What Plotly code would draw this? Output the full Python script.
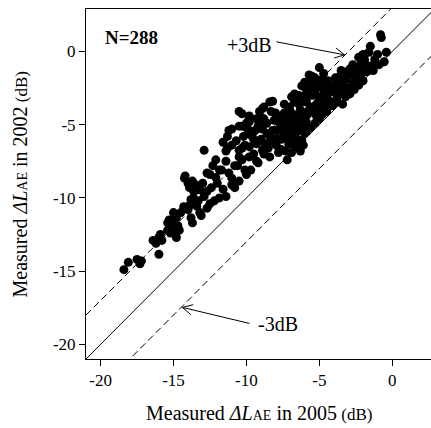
import math
import plotly.graph_objects as go

x2005 = [
    -18.4, -18.1, -17.5, -17.2, -17.3, -16.4, -16.0, -15.8, -16.0, -16.2, -15.9,
    -15.4, -15.3, -14.8, -15.1, -14.9, -14.6, -14.8, -15.4, -15.0, -14.7, -15.2,
    -13.8, -13.7, -13.9, -13.6, -14.0, -13.2, -13.1, -13.8, -13.4, -14.25, -13.7,
    -13.9, -13.2, -14.2, -13.5, -13.6, -14.0, -13.3, -13.7, -14.3, -14.5, -15.0,
    -12.9, -12.7, -12.7, -12.2, -11.85, -11.4, -12.3, -11.85, -12.7, -12.5, -11.7,
    -11.0, -10.5, -11.0, -11.4, -10.8, -10.3, -10.6, -11.0, -11.3, -11.4, -10.5,
    -10.5, -10.1, -11.2, -11.3, -11.0, -10.5, -10.5, -12.0, -12.4, -11.6, -12.9,
    -12.1, -11.2, -10.8, -12.5, -10.7,
    -10.3, -10.0, -9.9, -9.8, -9.3, -9.2, -9.8, -9.1, -10.3, -9.9, -9.8, -9.1,
    -8.8, -8.4, -8.9, -8.3, -8.1, -8.8, -8.6, -8.2, -9.8, -9.3, -9.2, -9.7, -9.8,
    -9.3, -8.9, -8.4, -8.4, -10.1, -10.0, -10.3, -9.5, -9.0, -8.7, -8.5, -9.6,
    -8.6, -9.4, -8.9, -10.2, -8.3,
    -7.95, -7.5, -7.3, -7.05, -6.7, -6.2, -6.85, -6.5, -6.9, -6.4, -7.05, -6.6,
    -7.5, -6.6, -6.85, -6.2, -7.3, -7.95, -7.9, -7.2, -6.2, -6.2, -7.7, -7.4,
    -7.0, -6.8, -7.6, -7.2, -6.5, -6.3, -6.1, -7.8, -7.1, -6.6, -6.3, -7.6, -6.9,
    -6.0, -7.4, -6.7, -6.4, -7.0, -6.8, -6.2, -7.3, -6.5, -6.1, -6.0,
    -6.0, -5.7, -6.0, -5.5, -5.9, -5.3, -5.7, -5.0, -5.9, -5.5, -5.9, -5.9, -5.9,
    -5.2, -4.5, -4.1, -4.5, -5.0, -5.5, -5.5, -4.8, -4.9, -4.3, -4.5, -5.5, -5.9,
    -5.2, -4.2, -4.0, -5.6, -5.1, -4.7, -4.4, -5.3, -4.8, -4.3, -5.8, -4.6, -5.0,
    -5.4, -4.1, -5.6, -5.0, -4.9, -5.7, -4.4,
    -3.8, -4.0, -3.4, -2.9, -3.8, -3.4, -3.5, -3.15, -3.1, -2.7, -2.6, -2.1, -2.1,
    -2.4, -2.7, -3.6, -3.3, -2.5, -2.3, -3.0, -3.7, -2.8, -2.2, -3.9, -3.2, -2.6,
    -3.5, -2.4, -2.0,
    -0.8, -0.75, -1.5, -1.6, -1.0, -0.4, -0.55, -1.8, -1.7, -1.2, -1.9, -1.4,
    -1.3, -0.9, -1.9,
    -7.6, -7.1, -6.4, -5.8, -5.2, -4.6, -3.9, -3.3, -2.9, -2.3, -6.9, -8.0, -8.2,
    -9.0, -10.0, -11.6, -12.1, -13.0, -6.0, -5.3, -4.7, -3.6, -2.0, -7.8, -6.4,
    -8.8, -9.5,
]
y2002 = [
    -14.9, -14.4, -14.2, -14.3, -14.5, -12.9, -12.7, -12.9, -13.85, -13.1, -12.5,
    -12.2, -11.5, -11.35, -11.8, -12.2, -12.2, -12.7, -11.7, -12.0, -11.9, -12.4,
    -11.35, -11.7, -10.5, -10.1, -10.8, -11.0, -11.2, -10.1, -10.55, -8.65, -8.85,
    -9.3, -9.45, -8.5, -9.1, -9.6, -9.0, -10.2, -10.3, -10.6, -11.0, -11.0,
    -6.75, -9.55, -10.7, -10.2, -10.0, -9.9, -7.8, -8.1, -8.3, -8.4, -8.1,
    -8.65, -8.85, -9.1, -7.5, -7.8, -7.4, -7.8, -6.4, -6.6, -6.8, -7.2,
    -6.75, -6.4, -5.4, -5.8, -5.3, -5.1, -4.1, -9.0, -9.3, -9.4, -9.9,
    -8.6, -8.3, -9.3, -10.4, -6.1,
    -5.1, -4.9, -5.6, -4.8, -4.6, -5.1, -5.4, -5.1, -4.25, -4.8, -4.4, -4.1,
    -3.8, -3.45, -3.9, -4.1, -4.7, -4.6, -5.6, -5.4, -6.5, -6.3, -7.6, -8.1, -7.2,
    -7.5, -6.75, -7.2, -5.8, -8.1, -8.4, -6.6, -6.0, -6.0, -6.3, -6.6, -5.8,
    -4.9, -5.4, -5.3, -5.8, -6.1,
    -5.4, -5.5, -4.7, -3.8, -3.45, -3.25, -4.25, -4.45, -5.3, -5.4, -3.9, -4.4,
    -5.3, -5.4, -6.3, -6.1, -6.8, -6.4, -5.95, -7.4, -2.35, -3.45, -4.9, -4.2,
    -4.9, -5.8, -6.0, -5.8, -5.0, -4.0, -5.1, -4.5, -6.3, -6.5, -6.8, -6.7, -6.9,
    -5.6, -3.6, -2.9, -3.0, -5.5, -4.7, -4.6, -5.1, -6.0, -6.4, -4.2,
    -2.2, -1.6, -2.1, -2.2, -2.55, -2.8, -2.7, -2.2, -3.45, -4.1, -4.8, -5.5, -5.05,
    -4.4, -4.1, -3.7, -3.2, -1.1, -1.7, -2.0, -1.9, -2.4, -2.8, -3.2, -3.0, -3.4,
    -3.6, -3.7, -2.7, -3.8, -3.1, -2.9, -2.3, -4.9, -4.3, -3.4, -4.3, -3.7, -3.9,
    -2.5, -2.4, -5.2, -4.6, -3.3, -4.0, -2.0,
    -2.1, -2.7, -2.7, -2.9, -3.2, -3.6, -2.2, -1.9, -1.4, -0.9, -1.35, -0.75, -1.2,
    -1.7, -2.2, -1.7, -2.4, -1.9, -2.3, -2.5, -2.9, -1.6, -1.6, -3.5, -3.1, -2.6,
    -1.3, -1.1, -2.0,
    1.15, 0.95, 0.35, -0.05, -0.2, -0.05, -0.7, -0.9, -1.35, -0.55, -0.55, -1.0,
    -1.3, -0.9, -1.4,
    -5.2, -4.3, -3.6, -2.9, -2.5, -2.6, -1.8, -1.9, -1.2, -0.4, -3.1, -4.2, -3.4,
    -4.5, -5.2, -6.2, -7.4, -9.0, -3.0, -1.8, -1.5, -2.5, -0.2, -6.9, -6.2,
    -7.0, -7.0,
]

# reference lines: 1:1 and ±3 dB
line_x = [-21, 3]
offsets = [0, 3, -3]
line_dash = ["solid", "7px,4px", "7px,4px"]

x_ticks = [-20, -15, -10, -5, 0]
y_ticks = [-20, -15, -10, -5, 0]
tick_text = ["-20", "-15", "-10", "-5", "0"]
x_range = [-21, 2.66]
y_range = [-21, 2.9]

FONT = "Liberation Serif"
W, H = 431, 428
ML, MR, MT, MB = 86, 0, 9, 69
px_per_x = (W - ML - MR) / (x_range[1] - x_range[0])
px_per_y = (H - MT - MB) / (y_range[1] - y_range[0])

fig = go.Figure()
for off, dsh in zip(offsets, line_dash):
    fig.add_trace(go.Scatter(
        x=line_x, y=[v + off for v in line_x], mode="lines",
        line=dict(color="black", width=1, dash=dsh),
        hoverinfo="skip", showlegend=False))

fig.add_trace(go.Scatter(
    x=x2005, y=y2002, mode="markers",
    marker=dict(color="black", size=9, line=dict(width=0)),
    showlegend=False))

axis_common = dict(
    showgrid=False, zeroline=False, showline=True, linecolor="black",
    linewidth=1, ticks="outside", ticklen=6, tickcolor="black",
    tickfont=dict(family=FONT, size=17, color="black"),
)
fig.update_xaxes(range=x_range, tickvals=x_ticks, ticktext=tick_text, mirror=True, **axis_common)
fig.update_yaxes(range=y_range, tickvals=y_ticks, ticktext=tick_text, mirror=False, **axis_common)

title_x = "Measured <i>ΔL</i><span style='font-size:14px'>AE</span> in 2005<span style='font-size:17px'> (dB)</span>"
title_y = "Measured <i>ΔL</i><span style='font-size:14px'>AE</span> in 2002<span style='font-size:17px'> (dB)</span>"

annos = [
    dict(x=0.5, y=-0.155, xref="paper", yref="paper", text=title_x, showarrow=False,
         xanchor="center", yanchor="middle", font=dict(family=FONT, size=20, color="black")),
    dict(x=-0.19, y=0.5, xref="paper", yref="paper", text=title_y, showarrow=False,
         textangle=-90, xanchor="center", yanchor="middle",
         font=dict(family=FONT, size=20, color="black")),
    dict(x=-17.87, y=0.93, text="<b>N=288</b>", showarrow=False,
         font=dict(family=FONT, size=19, color="black")),
    dict(x=-9.79, y=0.46, text="+3dB", showarrow=False,
         font=dict(family=FONT, size=20, color="black")),
    dict(x=-7.86, y=-18.64, text="-3dB", showarrow=False,
         font=dict(family=FONT, size=20, color="black")),
]
for a in annos:
    fig.add_annotation(**a)

# arrows: (head_x, head_y, tail_x, tail_y) in data units
arrows = [(-3.27, -0.23, -7.94, 0.66), (-14.38, -17.48, -9.79, -18.57)]
for hx, hy, tx, ty in arrows:
    fig.add_shape(type="line", x0=tx, y0=ty, x1=hx, y1=hy,
                  line=dict(color="black", width=1))
    dxp = (tx - hx) * px_per_x
    dyp = (ty - hy) * px_per_y
    n = math.hypot(dxp, dyp)
    ux, uy = dxp / n, dyp / n
    for ang in (math.radians(28), math.radians(-28)):
        rx = ux * math.cos(ang) - uy * math.sin(ang)
        ry = ux * math.sin(ang) + uy * math.cos(ang)
        fig.add_shape(type="line", xsizemode="pixel", ysizemode="pixel",
                      xanchor=hx, yanchor=hy, x0=0, y0=0, x1=rx * 11, y1=ry * 11,
                      line=dict(color="black", width=1))

fig.update_layout(
    width=W, height=H,
    margin=dict(l=ML, r=MR, t=MT, b=MB),
    plot_bgcolor="white", paper_bgcolor="white",
    font=dict(family=FONT, color="black"),
)

fig.write_html("out.html", config={"displayModeBar": False},
               post_script="document.body.style.margin='0';")
